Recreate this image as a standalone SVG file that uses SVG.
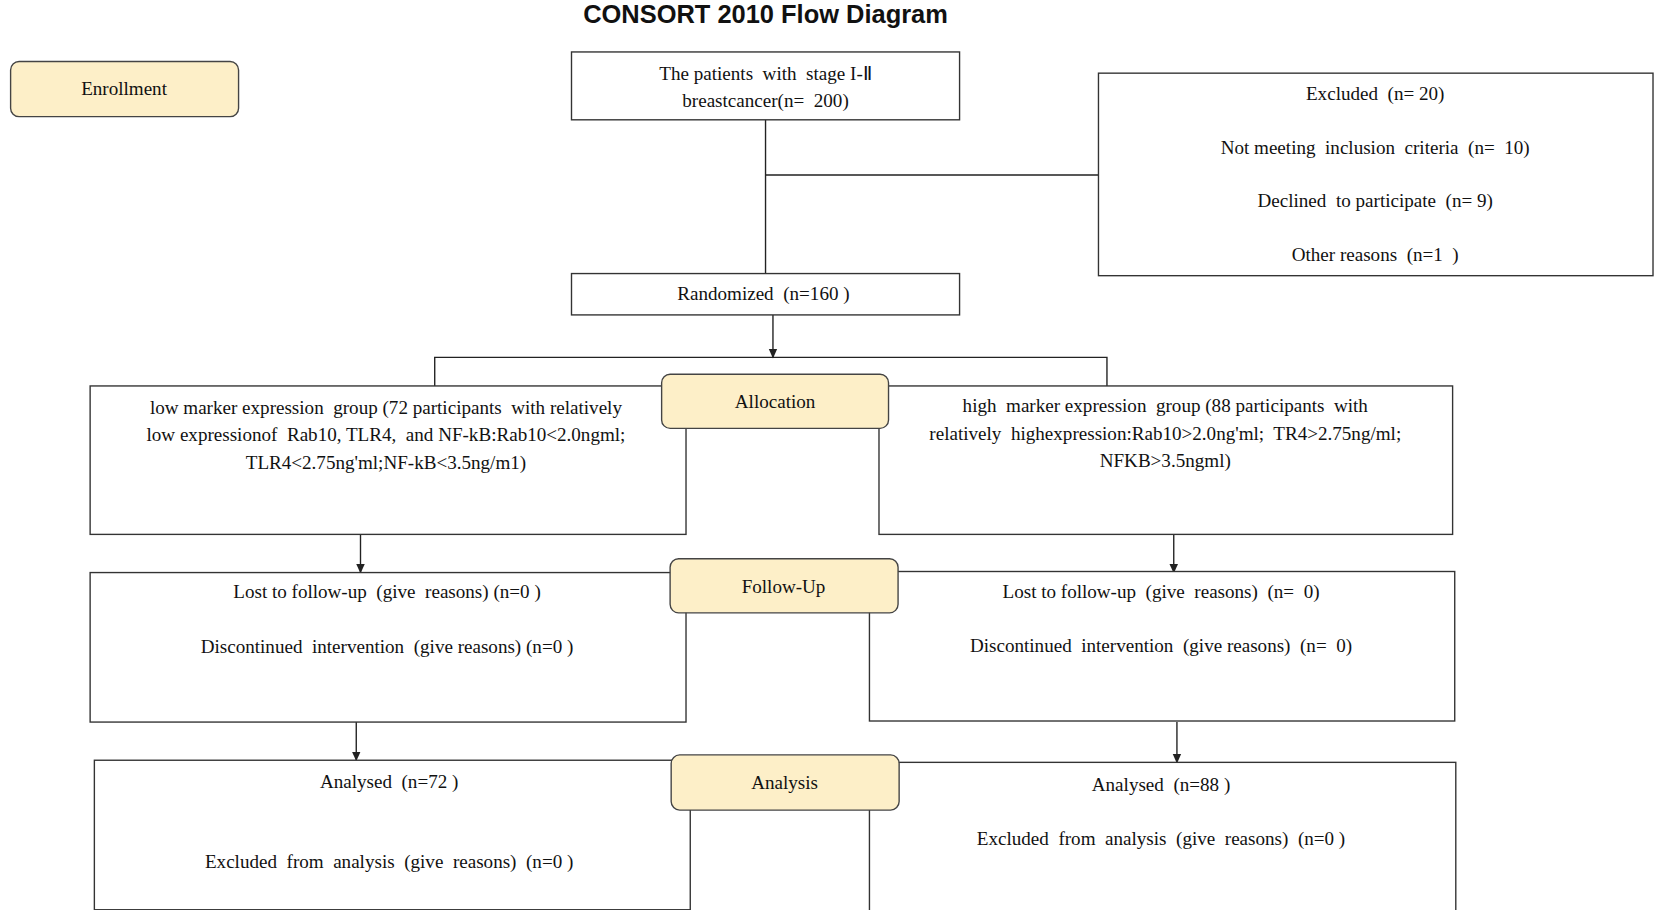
<svg xmlns="http://www.w3.org/2000/svg" width="1654" height="910" viewBox="0 0 1654 910">
<defs>
<style>
.b{fill:#fff;stroke:#333;stroke-width:1.3}
.l{fill:#fdefc8;stroke:#444;stroke-width:1.3}
.t{font-family:"Liberation Serif",serif;font-size:18px;fill:#111;text-anchor:middle;white-space:pre}
.c{stroke:#222;stroke-width:1.3;fill:none}
</style>
<marker id="a" markerWidth="10" markerHeight="10" refX="8" refY="5" orient="auto" markerUnits="userSpaceOnUse"><path d="M0,1 L9,5 L0,9 Z" fill="#222"/></marker>
</defs>
<rect width="1654" height="910" fill="#fff"/>
<g transform="scale(1.0603)">
<text x="722" y="22" style="font-family:'Liberation Sans',sans-serif;font-size:24px;font-weight:600;fill:#111;text-anchor:middle">CONSORT 2010 Flow Diagram</text>
<g id="connectors">
<path class="c" d="M722 113 V258 M722 165 H1036 M410 364 V337 H1044 V364"/>
<path class="c" d="M729 297 V337" marker-end="url(#a)"/>
<path class="c" d="M340 504 V540" marker-end="url(#a)"/>
<path class="c" d="M1107 504 V540" marker-end="url(#a)"/>
<path class="c" d="M336 681 V717" marker-end="url(#a)"/>
<path class="c" d="M1110 681 V719" marker-end="url(#a)"/>
</g>
<g id="enrollment"><rect class="l" x="10" y="58" width="215" height="52" rx="8"/><text class="t" x="117" y="90">Enrollment</text></g>
<g id="patients"><rect class="b" x="539" y="49" width="366" height="64"/><text class="t" x="722" y="75">The patients  with  stage I-Ⅱ</text><text class="t" x="722" y="101">breastcancer(n=  200)</text></g>
<g id="excluded"><rect class="b" x="1036" y="69" width="523" height="191"/>
<text class="t" x="1297" y="94">Excluded  (n= 20)</text>
<text class="t" x="1297" y="145">Not meeting  inclusion  criteria  (n=  10)</text>
<text class="t" x="1297" y="195">Declined  to participate  (n= 9)</text>
<text class="t" x="1297" y="246">Other reasons  (n=1  )</text></g>
<g id="randomized"><rect class="b" x="539" y="258" width="366" height="39"/><text class="t" x="720" y="283">Randomized  (n=160 )</text></g>
<g id="low"><rect class="b" x="85" y="364" width="562" height="140"/>
<text class="t" x="364" y="390">low marker expression  group (72 participants  with relatively</text>
<text class="t" x="364" y="416">low expressionof  Rab10, TLR4,  and NF-kB:Rab10&lt;2.0ngml;</text>
<text class="t" x="364" y="442">TLR4&lt;2.75ng'ml;NF-kB&lt;3.5ng/m1)</text></g>
<g id="high"><rect class="b" x="829" y="364" width="541" height="140"/>
<text class="t" x="1099" y="389">high  marker expression  group (88 participants  with</text>
<text class="t" x="1099" y="415">relatively  highexpression:Rab10&gt;2.0ng'ml;  TR4&gt;2.75ng/ml;</text>
<text class="t" x="1099" y="440">NFKB&gt;3.5ngml)</text></g>
<g id="allocation"><rect class="l" x="624" y="353" width="214" height="51" rx="8"/><text class="t" x="731" y="385">Allocation</text></g>
<g id="fu-left"><rect class="b" x="85" y="540" width="562" height="141"/>
<text class="t" x="365" y="564">Lost to follow-up  (give  reasons) (n=0 )</text>
<text class="t" x="365" y="616">Discontinued  intervention  (give reasons) (n=0 )</text></g>
<g id="fu-right"><rect class="b" x="820" y="539" width="552" height="141"/>
<text class="t" x="1095" y="564">Lost to follow-up  (give  reasons)  (n=  0)</text>
<text class="t" x="1095" y="615">Discontinued  intervention  (give reasons)  (n=  0)</text></g>
<g id="followup"><rect class="l" x="632" y="527" width="215" height="51" rx="8"/><text class="t" x="739" y="559">Follow-Up</text></g>
<g id="an-left"><rect class="b" x="89" y="717" width="562" height="141"/>
<text class="t" x="367" y="743">Analysed  (n=72 )</text>
<text class="t" x="367" y="819">Excluded  from  analysis  (give  reasons)  (n=0 )</text></g>
<g id="an-right"><rect class="b" x="820" y="719" width="553" height="140"/>
<text class="t" x="1095" y="746">Analysed  (n=88 )</text>
<text class="t" x="1095" y="797">Excluded  from  analysis  (give  reasons)  (n=0 )</text></g>
<g id="analysis"><rect class="l" x="633" y="712" width="215" height="52" rx="8"/><text class="t" x="740" y="744">Analysis</text></g>
</g>
</svg>
